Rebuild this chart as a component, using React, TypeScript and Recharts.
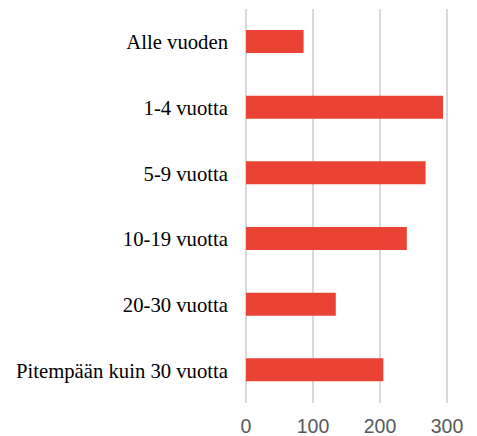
import { BarChart, Bar, XAxis, YAxis, CartesianGrid } from "recharts";

const categories = [
  "Alle vuoden",
  "1-4 vuotta",
  "5-9 vuotta",
  "10-19 vuotta",
  "20-30 vuotta",
  "Pitempään kuin 30 vuotta",
];
const counts = [86, 294, 268, 240, 134, 205];
const xTicks = [0, 100, 200, 300];

const data = categories.map((name, i) => ({ name, value: counts[i] }));

export default function App() {
  return (
    <div style={{ position: "absolute", left: 0, top: 0, background: "#fff" }}>
      <BarChart
        width={477}
        height={436}
        data={data}
        layout="vertical"
        margin={{ top: 9, right: 30, bottom: 0, left: 0 }}
        barSize={23}
      >
        <CartesianGrid horizontal={false} stroke="#d9d9d9" strokeWidth={2} />
        <XAxis
          type="number"
          domain={[0, 300]}
          ticks={xTicks}
          axisLine={false}
          tickLine={false}
          height={33}
          tickMargin={10}
          tick={{ fill: "#595959", fontSize: 19.5, fontFamily: "Liberation Sans, Arial, sans-serif" }}
        />
        <YAxis
          type="category"
          dataKey="name"
          width={246}
          axisLine={false}
          tickLine={false}
          tickSize={0}
          tickMargin={18}
          interval={0}
          tick={{ fill: "#000", fontSize: 20.7, fontFamily: "Liberation Serif, Times New Roman, serif" }}
        />
        <Bar dataKey="value" fill="#EA4335" isAnimationActive={false} />
      </BarChart>
    </div>
  );
}
